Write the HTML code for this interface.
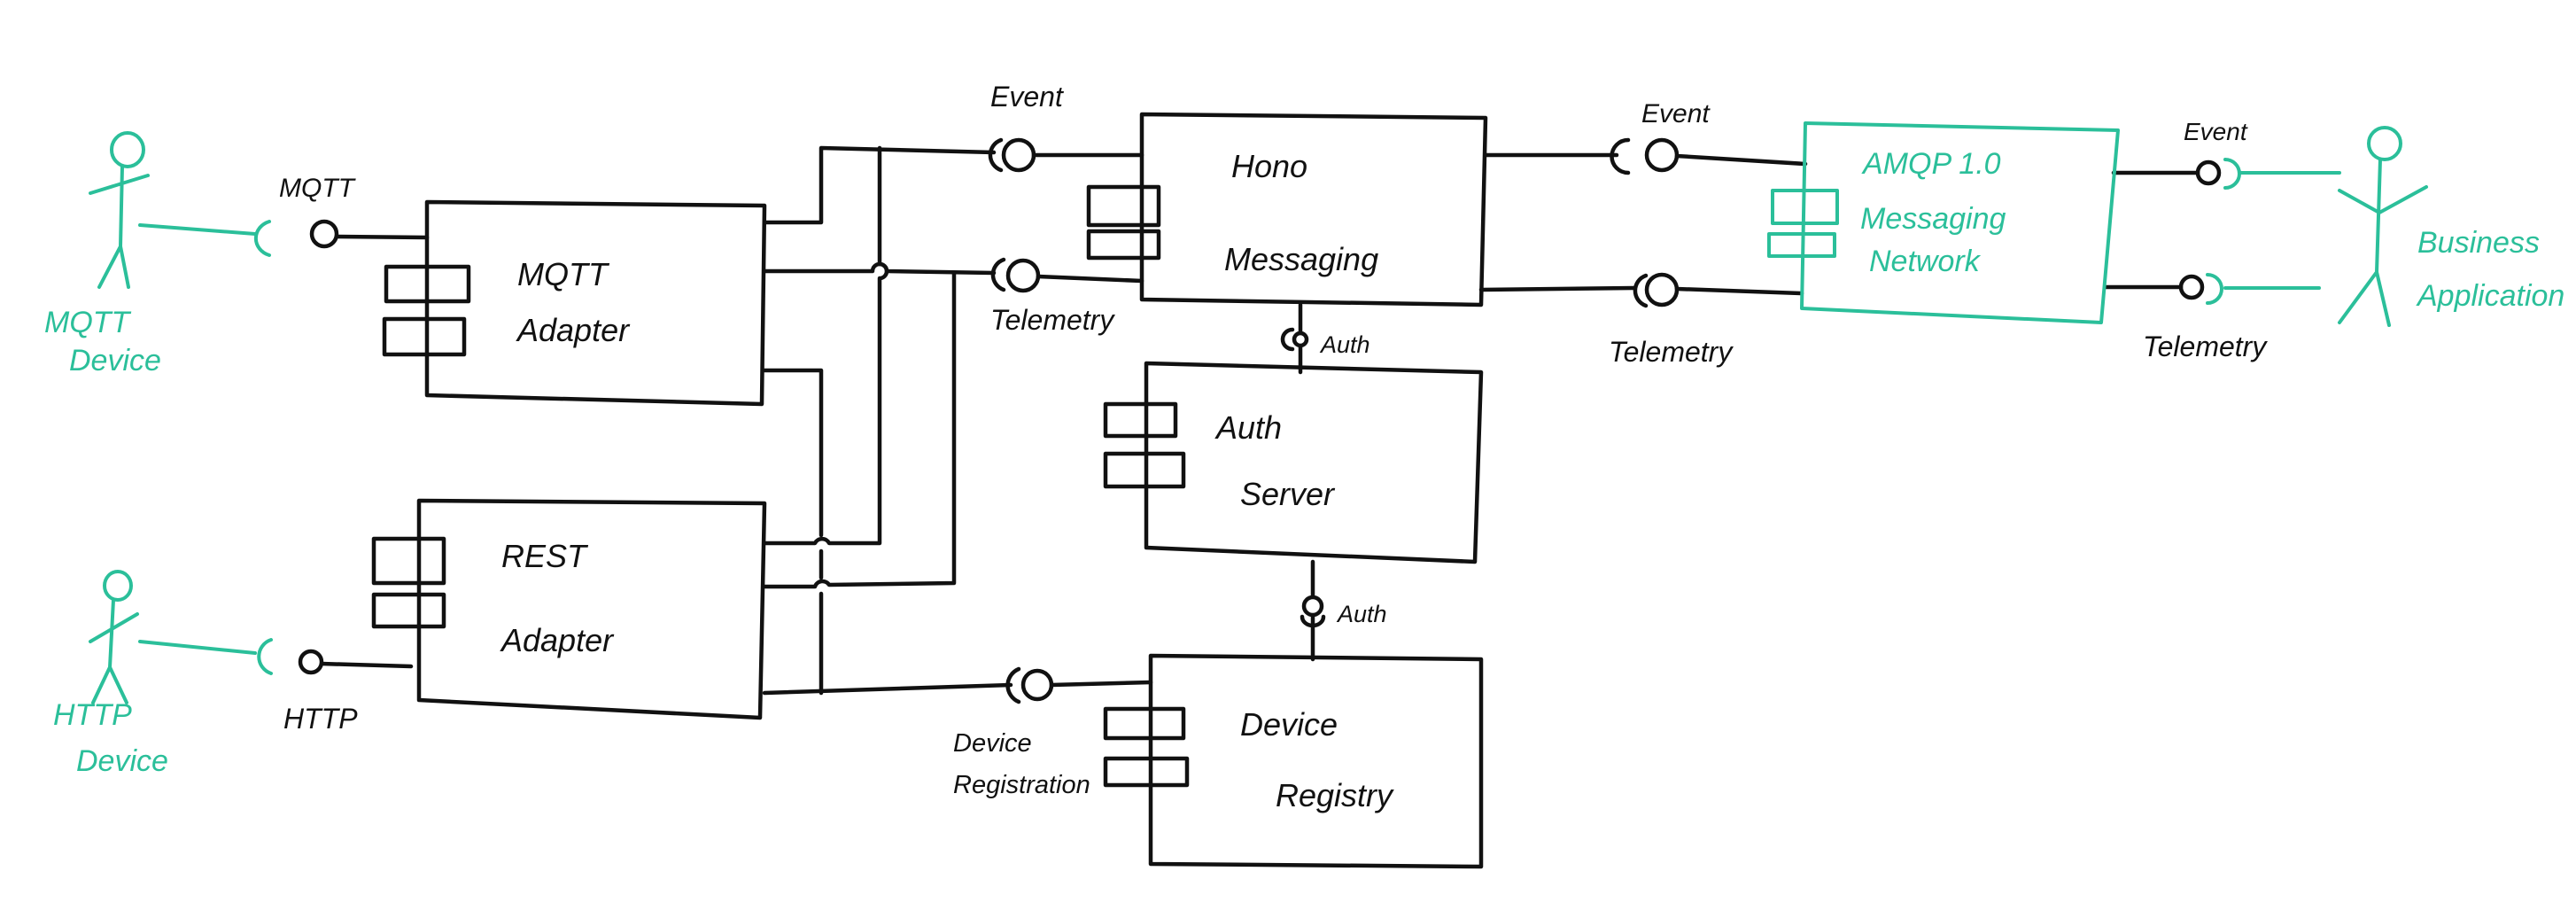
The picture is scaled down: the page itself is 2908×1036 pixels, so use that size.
<!DOCTYPE html>
<html><head><meta charset="utf-8"><style>
html,body{margin:0;padding:0;background:#fff;}
svg{display:block;}
text{font-family:"Liberation Sans",sans-serif;font-style:italic;}
</style></head><body>
<svg width="2908" height="1036" viewBox="0 0 2908 1036" xmlns="http://www.w3.org/2000/svg">
<rect width="2908" height="1036" fill="#fff"/>
<g fill="none" stroke="#111" stroke-width="4.5" stroke-linecap="round" stroke-linejoin="round">
<!-- MQTT Adapter -->
<path d="M482 228 L863 232 L860 456 L482 446 Z"/>
<rect x="436" y="301" width="93" height="39"/>
<rect x="434" y="360" width="90" height="40"/>
<!-- REST Adapter -->
<path d="M473 565 L863 568 L858 810 L473 790 Z"/>
<rect x="422" y="608" width="79" height="50"/>
<rect x="422" y="671" width="79" height="36"/>
<!-- Hono -->
<path d="M1289 129 L1677 133 L1672 344 L1289 338 Z"/>
<rect x="1229" y="211" width="79" height="43"/>
<rect x="1229" y="261" width="79" height="30"/>
<!-- Auth -->
<path d="M1294 410 L1672 420 L1665 634 L1294 618 Z"/>
<rect x="1248" y="456" width="79" height="36"/>
<rect x="1248" y="512" width="88" height="37"/>
<!-- Device Registry -->
<path d="M1299 740 L1672 744 L1672 978 L1299 975 Z"/>
<rect x="1248" y="800" width="88" height="33"/>
<rect x="1248" y="856" width="92" height="30"/>
<!-- MQTT interface -->
<circle cx="366" cy="264" r="14"/>
<path d="M380 267 L482 268"/>
<!-- HTTP interface -->
<circle cx="351" cy="747" r="12"/>
<path d="M363 749 L464 752"/>
<!-- connectors from adapters -->
<path d="M863 251 L927 251 L927 167 L1122 172"/>
<path d="M993 167 L993 298 A8 8 0 0 1 993 314 L993 613 L936 613 A9 9 0 0 0 920 613 L863 613"/>
<path d="M863 306 L985 306 A8 8 0 0 1 1001 306 L1122 308"/>
<path d="M1077 308 L1077 658 L936 660 A9 9 0 0 0 920 662 L863 662"/>
<path d="M863 418 L927 418 L927 604 M927 622 L927 652 M927 670 L927 782"/>
<path d="M863 782 L1141 773"/>
<!-- Hono sockets -->
<path d="M1130 158 A18 18 0 0 0 1130 192"/><circle cx="1150" cy="175" r="17"/><path d="M1167 175 L1289 175"/>
<path d="M1133 293 A18 18 0 0 0 1133 327"/><circle cx="1155" cy="311" r="17"/><path d="M1172 312 L1289 317"/>
<!-- Device registration socket -->
<path d="M1150 755 A20 20 0 0 0 1150 792"/><circle cx="1171" cy="773" r="16"/><path d="M1187 773 L1299 770"/>
<!-- Auth links -->
<path d="M1468 344 L1468 375 M1468 391 L1468 420"/><circle cx="1468" cy="383" r="7"/><path d="M1459 372 A10 10 0 0 0 1459 394"/>
<path d="M1482 634 L1482 672 M1482 696 L1482 744"/><circle cx="1482" cy="684" r="10"/><path d="M1470 696 A12 10 0 0 0 1494 696"/>
<!-- Hono to AMQP -->
<path d="M1677 175 L1825 175"/><path d="M1838 158 A18 18 0 0 0 1838 195"/><circle cx="1876" cy="175" r="17"/><path d="M1893 176 L2038 185"/>
<path d="M1672 327 L1844 325"/><path d="M1858 311 A18 18 0 0 0 1858 345"/><circle cx="1876" cy="327" r="17"/><path d="M1893 326 L2034 331"/>
<!-- AMQP out -->
<path d="M2386 195 L2481 195"/><circle cx="2493" cy="195" r="12"/>
<path d="M2377 324 L2462 324"/><circle cx="2474" cy="324" r="12"/>
</g>
<g fill="none" stroke="#2bbf9a" stroke-width="4" stroke-linecap="round" stroke-linejoin="round">
<!-- MQTT device -->
<ellipse cx="144" cy="169" rx="18" ry="19"/>
<path d="M138 188 L136 278 M102 218 L167 198 M136 278 L112 324 M136 278 L145 324"/>
<path d="M158 254 L288 264"/><path d="M304 250 A22 20 0 0 0 304 288"/>
<!-- HTTP device -->
<ellipse cx="133" cy="661" rx="15" ry="16"/>
<path d="M128 677 L124 753 M102 724 L155 693 M124 753 L105 793 M124 753 L143 793"/>
<path d="M158 724 L288 737"/><path d="M306 722 A20 20 0 0 0 306 760"/>
<!-- AMQP -->
<path d="M2038 139 L2391 147 L2372 364 L2034 348 Z"/>
<rect x="2001" y="215" width="73" height="37"/>
<rect x="1997" y="264" width="74" height="25"/>
<!-- sockets & lines to Business -->
<path d="M2512 180 A16 16 0 0 1 2512 212"/><path d="M2530 195 L2641 195"/>
<path d="M2492 310 A16 16 0 0 1 2492 342"/><path d="M2512 325 L2618 325"/>
<!-- Business actor -->
<ellipse cx="2692" cy="162" rx="18" ry="18"/>
<path d="M2687 180 L2683 307 M2641 215 L2686 240 L2739 211 M2683 307 L2641 364 M2683 307 L2697 367"/>
</g>
<g fill="#111" font-size="36">
<text x="584" y="322">MQTT</text>
<text x="584" y="385">Adapter</text>
<text x="566" y="640">REST</text>
<text x="566" y="735">Adapter</text>
<text x="1390" y="200">Hono</text>
<text x="1382" y="305">Messaging</text>
<text x="1373" y="495">Auth</text>
<text x="1400" y="570">Server</text>
<text x="1400" y="830">Device</text>
<text x="1440" y="910">Registry</text>
<text x="315" y="222" font-size="30">MQTT</text>
<text x="320" y="822" font-size="32">HTTP</text>
<text x="1118" y="120" font-size="32">Event</text>
<text x="1118" y="372" font-size="32">Telemetry</text>
<text x="1076" y="848" font-size="29">Device</text>
<text x="1076" y="895" font-size="29">Registration</text>
<text x="1491" y="398" font-size="27">Auth</text>
<text x="1510" y="702" font-size="27">Auth</text>
<text x="1853" y="138" font-size="30">Event</text>
<text x="1816" y="408" font-size="32">Telemetry</text>
<text x="2465" y="158" font-size="28">Event</text>
<text x="2419" y="402" font-size="32">Telemetry</text>
</g>
<g fill="#2bbf9a" font-size="34">
<text x="50" y="375">MQTT</text>
<text x="78" y="418">Device</text>
<text x="60" y="818">HTTP</text>
<text x="86" y="870">Device</text>
<text x="2103" y="196">AMQP 1.0</text>
<text x="2100" y="258">Messaging</text>
<text x="2110" y="306">Network</text>
<text x="2729" y="285">Business</text>
<text x="2729" y="345">Application</text>
</g>
</svg>
</body></html>
